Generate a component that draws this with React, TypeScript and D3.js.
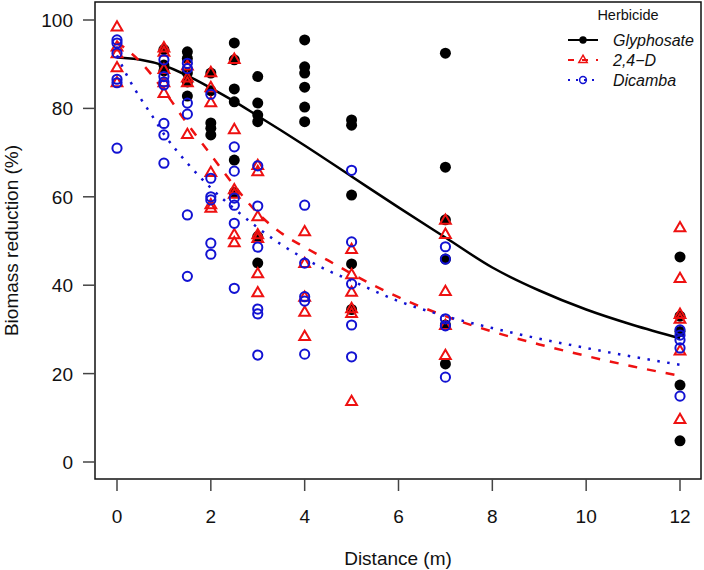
import React from 'react';
import * as d3 from 'd3';

// ---------- data ----------
const DISTANCES = [0, 1, 1.5, 2, 2.5, 3, 4, 5, 7, 12];

const GLYPHOSATE_OBS: number[][] = [
  [],
  [93.3, 89.8, 88.5],
  [92.8, 91.3, 88, 86, 82.8],
  [88, 84, 76.7, 75.5, 74],
  [94.8, 91, 84.4, 81.5, 68.3, 61],
  [87.2, 81.2, 78.5, 77, 51, 45],
  [95.5, 89.4, 88, 84.8, 80.3, 77],
  [77.4, 76.2, 60.4, 44.8, 34.5],
  [92.5, 66.7, 54.8, 45.9, 31, 22.2],
  [46.4, 33, 29.5, 17.4, 4.8],
];

const D24_OBS: number[][] = [
  [98.3, 93.8, 92.3, 89.1, 85.7],
  [93.6, 92.6, 88.7, 85.7, 83.3],
  [89.5, 86.8, 85.7, 74],
  [88, 84.6, 81.2, 65.4, 58.1, 57.3],
  [91, 75.1, 61.5, 60.5, 51.3, 49.5],
  [67, 65.6, 55.4, 51.3, 50.5, 42.5, 38.2],
  [52, 44.8, 37.2, 33.8, 28.3],
  [48, 42.3, 38.3, 34.6, 33.5, 13.6],
  [54.6, 51.4, 38.5, 30.8, 24],
  [52.9, 41.4, 33.3, 32.2, 25, 9.5],
];

const DICAMBA_OBS: number[][] = [
  [95.5, 94.8, 92.5, 86.6, 85.8, 71],
  [91, 87.2, 86, 85.3, 76.6, 74, 67.6],
  [90.2, 89, 81.2, 78.7, 55.9, 42],
  [83.2, 64.2, 60, 59.3, 49.5, 47],
  [71.3, 65.8, 59.7, 58.1, 54, 39.3],
  [67, 57.9, 48.6, 34.6, 33.5, 24.2],
  [58.1, 45, 37.4, 36.4, 24.4],
  [66, 49.8, 40.3, 31, 23.8],
  [48.7, 45.9, 32.4, 30.8, 19.2],
  [29.9, 28.7, 27.6, 25.8, 14.9],
];

// fitted curves
const GLY_FIT_X = [0, 0.5, 1, 1.5, 2, 2.5, 3, 3.5, 4, 5, 6, 7, 8, 9, 10, 11, 12];
const GLY_FIT_Y = [91.5, 91, 89.7, 87.4, 84.6, 81.6, 78.3, 75, 71.6, 64.6, 57.6, 50.8, 44, 38.8, 34.5, 31, 28];

const D24_FIT_X = [0, 0.5, 1, 1.5, 2, 2.5, 3, 3.5, 4, 4.5, 5, 6, 7, 8, 9, 10, 11, 12];
const D24_FIT_Y = [95, 90.5, 84, 76.5, 69.5, 62.5, 56.3, 51.8, 48.6, 45.6, 42.6, 37.3, 33, 29.5, 26.6, 24, 21.6, 19.5];

const DIC_FIT_X = [0, 0.25, 0.5, 0.75, 1, 1.5, 2, 2.5, 3, 3.5, 4, 4.5, 5, 6, 7, 8, 9, 10, 11, 12];
const DIC_FIT_Y = [92, 86.7, 82.3, 78.3, 74.2, 67.6, 62, 57.3, 53, 49.2, 46, 43.3, 41, 36.4, 33, 30.3, 27.9, 25.8, 23.8, 22];

const X_TICKS = [0, 2, 4, 6, 8, 10, 12];
const Y_TICKS = [0, 20, 40, 60, 80, 100];

const LEGEND_TITLE = 'Herbicide';
const LEGEND_LABELS = ['Glyphosate', '2,4\u2212D', 'Dicamba'];

// ---------- style ----------
const W = 704;
const H = 570;
const BOX = { left: 95, right: 701, top: 2, bottom: 479 };
const FONT = "'Liberation Sans', Arial, Helvetica, sans-serif";
const RED = '#ee1111';
const BLUE = '#1212d2';
const BLACK = '#000000';

const triPath = (r: number) =>
  `M0,${-r}L${(r * 0.866).toFixed(2)},${r / 2}L${(-r * 0.866).toFixed(2)},${r / 2}Z`;

function flatten(obs: number[][]): [number, number][] {
  const out: [number, number][] = [];
  obs.forEach((vals, i) => vals.forEach((v) => out.push([DISTANCES[i], v])));
  return out;
}

export default function App() {
  const x = d3.scaleLinear().domain([0, 12]).range([117, 680]);
  const y = d3.scaleLinear().domain([0, 100]).range([462, 20]);
  const line = d3
    .line<[number, number]>()
    .x((d) => x(d[0]))
    .y((d) => y(d[1]))
    .curve(d3.curveMonotoneX);

  const gly = flatten(GLYPHOSATE_OBS);
  const d24 = flatten(D24_OBS);
  const dic = flatten(DICAMBA_OBS);
  const glyFit = GLY_FIT_X.map((v, i) => [v, GLY_FIT_Y[i]] as [number, number]);
  const d24Fit = D24_FIT_X.map((v, i) => [v, D24_FIT_Y[i]] as [number, number]);
  const dicFit = DIC_FIT_X.map((v, i) => [v, DIC_FIT_Y[i]] as [number, number]);

  const legX = 583;
  const legRows = [40, 60, 80];

  return (
    <svg
      width={W}
      height={H}
      viewBox={`0 0 ${W} ${H}`}
      style={{ position: 'absolute', left: 0, top: 0, display: 'block', background: '#fff' }}
      fontFamily={FONT}
    >
      <rect x={0} y={0} width={W} height={H} fill="#fff" />

      {/* points & curves */}
      <g>
        {gly.map((d, i) => (
          <circle key={'g' + i} cx={x(d[0])} cy={y(d[1])} r={5.5} fill={BLACK} />
        ))}
        <path d={line(glyFit) || ''} fill="none" stroke={BLACK} strokeWidth={2.5} />
      </g>
      <g>
        {d24.map((d, i) => (
          <path
            key={'r' + i}
            d={triPath(6.2)}
            transform={`translate(${x(d[0])},${y(d[1])})`}
            fill="none"
            stroke={RED}
            strokeWidth={2}
            strokeLinejoin="miter"
          />
        ))}
        <path
          d={line(d24Fit) || ''}
          fill="none"
          stroke={RED}
          strokeWidth={2.5}
          strokeDasharray="9 10"
        />
      </g>
      <g>
        {dic.map((d, i) => (
          <circle
            key={'b' + i}
            cx={x(d[0])}
            cy={y(d[1])}
            r={4.6}
            fill="none"
            stroke={BLUE}
            strokeWidth={2}
          />
        ))}
        <path
          d={line(dicFit) || ''}
          fill="none"
          stroke={BLUE}
          strokeWidth={2.5}
          strokeDasharray="2.5 7.5"
        />
      </g>

      {/* box */}
      <rect
        x={BOX.left}
        y={BOX.top}
        width={BOX.right - BOX.left}
        height={BOX.bottom - BOX.top}
        fill="none"
        stroke="#111"
        strokeWidth={1.5}
      />

      {/* x axis */}
      {X_TICKS.map((t) => (
        <g key={'xt' + t}>
          <line x1={x(t)} x2={x(t)} y1={BOX.bottom} y2={BOX.bottom + 12} stroke="#444" strokeWidth={1.5} />
          <text x={x(t)} y={BOX.bottom + 44} textAnchor="middle" fontSize={19} fill="#111">
            {t}
          </text>
        </g>
      ))}
      <text x={(BOX.left + BOX.right) / 2} y={565} textAnchor="middle" fontSize={19} fill="#111">
        Distance (m)
      </text>

      {/* y axis */}
      {Y_TICKS.map((t) => (
        <g key={'yt' + t}>
          <line x1={BOX.left - 12} x2={BOX.left} y1={y(t)} y2={y(t)} stroke="#444" strokeWidth={1.5} />
          <text x={BOX.left - 22} y={y(t) + 7} textAnchor="end" fontSize={19} fill="#111">
            {t}
          </text>
        </g>
      ))}
      <text
        transform={`translate(${18},${(BOX.top + BOX.bottom) / 2}) rotate(-90)`}
        textAnchor="middle"
        fontSize={19}
        fill="#111"
      >
        Biomass reduction (%)
      </text>

      {/* legend */}
      <g>
        <text x={628} y={20} textAnchor="middle" fontSize={14.5} fill="#111">
          {LEGEND_TITLE}
        </text>
        {/* Glyphosate */}
        <line x1={legX - 15} x2={legX + 15} y1={legRows[0]} y2={legRows[0]} stroke={BLACK} strokeWidth={2} />
        <circle cx={legX} cy={legRows[0]} r={3.7} fill={BLACK} />
        {/* 2,4-D */}
        <line
          x1={legX - 15}
          x2={legX + 15}
          y1={legRows[1]}
          y2={legRows[1]}
          stroke={RED}
          strokeWidth={2}
          strokeDasharray="6 8"
        />
        <path
          d={triPath(4.8)}
          transform={`translate(${legX},${legRows[1]})`}
          fill="none"
          stroke={RED}
          strokeWidth={1.5}
        />
        {/* Dicamba */}
        <line
          x1={legX - 15}
          x2={legX + 15}
          y1={legRows[2]}
          y2={legRows[2]}
          stroke={BLUE}
          strokeWidth={2}
          strokeDasharray="2 6"
        />
        <circle cx={legX} cy={legRows[2]} r={3.4} fill="none" stroke={BLUE} strokeWidth={1.5} />
        {LEGEND_LABELS.map((l, i) => (
          <text key={l} x={613} y={legRows[i] + 6} fontSize={16} fontStyle="italic" fill="#111">
            {l}
          </text>
        ))}
      </g>
    </svg>
  );
}
